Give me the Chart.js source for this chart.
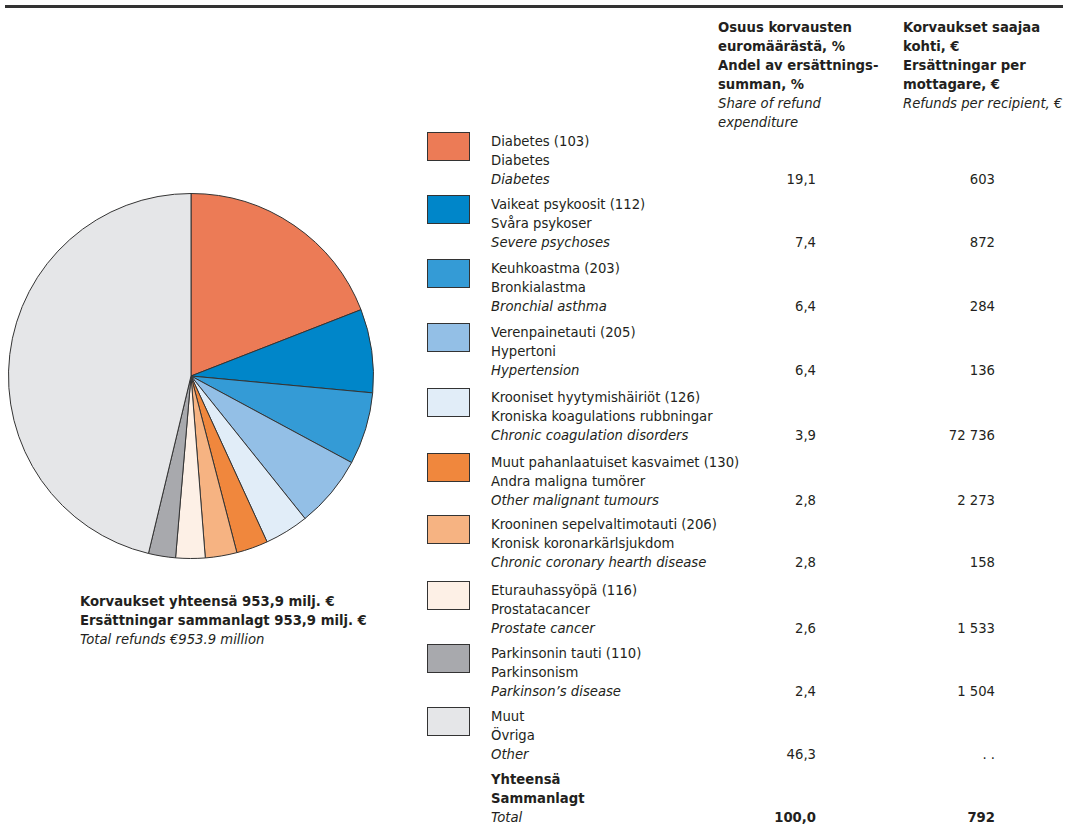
<!DOCTYPE html>
<html>
<head>
<meta charset="utf-8">
<script src="https://cdn.jsdelivr.net/npm/chart.js@4"></script>
<style>
  body { margin: 0; background: #fff; width: 1069px; height: 831px; position: relative; overflow: hidden;
         font-family: "Liberation Sans Narrow", "DejaVu Sans Condensed", "Roboto", sans-serif; color: #231f20; }
  #rule { position: absolute; left: 5px; top: 5px; width: 1058px; height: 3px; background: #333; }
  #pieWrap { position: absolute; left: 7px; top: 192px; width: 368px; height: 368px; }
  .t { position: absolute; font-size: 14.7px; line-height: 19px; white-space: nowrap; }
  .b { font-weight: bold; }
  .i { font-style: italic; }
  .r { text-align: right; }
  .sw { position: absolute; width: 41px; height: 27px; border: 1px solid #333; }
</style>
</head>
<body>
<div id="rule"></div>
<div id="pieWrap"><canvas id="pie"></canvas></div>
<div id="legend"></div>
<script>
// --- data ---
const namesFi = ['Diabetes (103)', 'Vaikeat psykoosit (112)', 'Keuhkoastma (203)', 'Verenpainetauti (205)',
  'Krooniset hyytymishäiriöt (126)', 'Muut pahanlaatuiset kasvaimet (130)', 'Krooninen sepelvaltimotauti (206)',
  'Eturauhassyöpä (116)', 'Parkinsonin tauti (110)', 'Muut'];
const namesSv = ['Diabetes', 'Svåra psykoser', 'Bronkialastma', 'Hypertoni', 'Kroniska koagulations  rubbningar',
  'Andra maligna tumörer', 'Kronisk koronarkärlsjukdom', 'Prostatacancer', 'Parkinsonism', 'Övriga'];
const namesEn = ['Diabetes', 'Severe psychoses', 'Bronchial asthma', 'Hypertension', 'Chronic coagulation disorders',
  'Other malignant tumours', 'Chronic coronary hearth disease', 'Prostate cancer', 'Parkinson\u2019s disease', 'Other'];
const sharePct = [19.1, 7.4, 6.4, 6.4, 3.9, 2.8, 2.8, 2.6, 2.4, 46.3];
const perRecipient = [603, 872, 284, 136, 72736, 2273, 158, 1533, 1504, null];
const sliceColors = ['#ec7b56', '#0086c9', '#349bd6', '#93bfe6', '#e1edf8', '#f0873d', '#f6b382', '#fdf0e6', '#a8a9ad', '#e5e6e8'];
const totalShare = 100.0;
const totalPerRecipient = 792;

const fmtPct = v => v.toFixed(1).replace('.', ',');
const fmtEur = v => v === null ? '. .' : String(v).replace(/\B(?=(\d{3})+(?!\d))/g, '\u00a0');

// --- text blocks ---
const legend = document.getElementById('legend');
function txt(x, y, s, cls, w) {
  const d = document.createElement('div');
  d.className = 't ' + (cls || '');
  d.style.top = y + 'px';
  if (w) { d.style.left = (x - w) + 'px'; d.style.width = w + 'px'; } else d.style.left = x + 'px';
  d.textContent = s;
  legend.appendChild(d);
}
function lines(x, y, arr) {
  arr.forEach((a, k) => txt(x, y + k * 19, a[0], a[1]));
}

lines(718, 17, [['Osuus korvausten', 'b'], ['euromäärästä, %', 'b'], ['Andel av ersättnings-', 'b'],
  ['summan, %', 'b'], ['Share of refund', 'i'], ['expenditure', 'i']]);
lines(903, 17, [['Korvaukset saajaa', 'b'], ['kohti, €', 'b'], ['Ersättningar per', 'b'],
  ['mottagare, €', 'b'], ['Refunds per recipient, €', 'i']]);

const rowTops = [131, 194, 258, 322, 387, 452, 514, 580, 643, 706];
namesFi.forEach((n, i) => {
  const y = rowTops[i];
  const sw = document.createElement('div');
  sw.className = 'sw';
  sw.style.left = '427px'; sw.style.top = (y + 1) + 'px';
  sw.style.background = sliceColors[i];
  legend.appendChild(sw);
  lines(491, y, [[n, ''], [namesSv[i], ''], [namesEn[i], 'i']]);
  txt(816, y + 38, fmtPct(sharePct[i]), 'r', 80);
  txt(995, y + 38, fmtEur(perRecipient[i]), 'r', 80);
});
lines(491, 769, [['Yhteensä', 'b'], ['Sammanlagt', 'b'], ['Total', 'i']]);
txt(816, 807, fmtPct(totalShare), 'r b', 80);
txt(995, 807, fmtEur(totalPerRecipient), 'r b', 80);

lines(80, 591, [['Korvaukset yhteensä 953,9 milj. €', 'b'], ['Ersättningar sammanlagt 953,9 milj. €', 'b'],
  ['Total refunds €953.9 million', 'i']]);

// --- pie ---
new Chart(document.getElementById('pie'), {
  type: 'pie',
  data: {
    labels: namesFi,
    datasets: [{
      data: sharePct,
      backgroundColor: sliceColors,
      borderColor: '#333',
      borderWidth: 1
    }]
  },
  options: {
    responsive: true, maintainAspectRatio: false, animation: false,
    layout: { padding: 1 },
    plugins: { legend: { display: false }, tooltip: { enabled: false } }
  }
});
</script>
</body>
</html>
